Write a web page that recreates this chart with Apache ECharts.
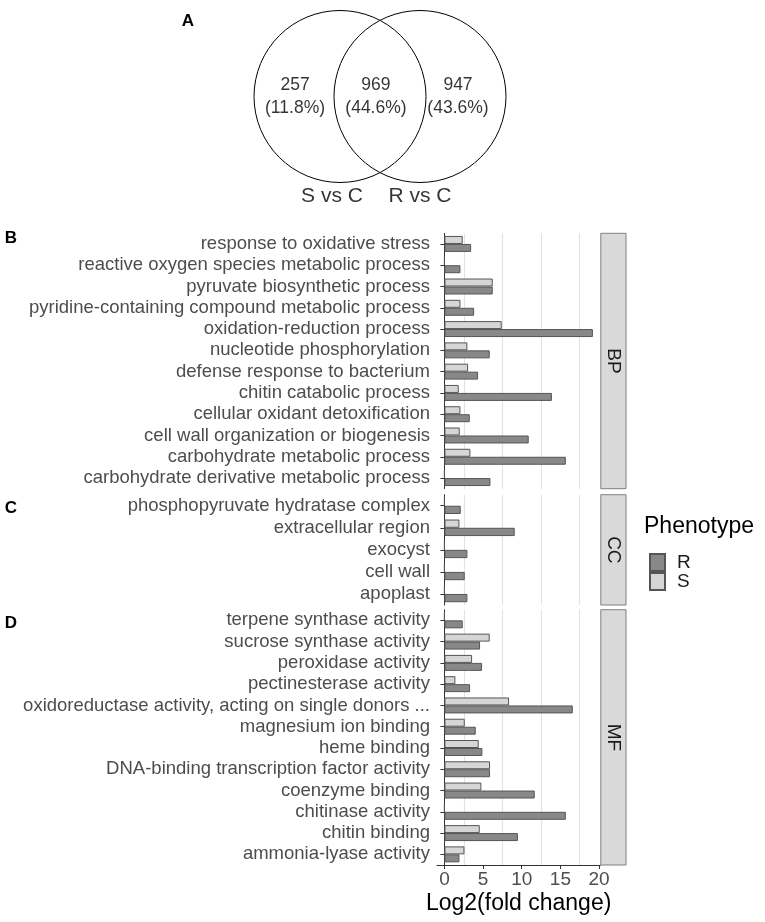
<!DOCTYPE html>
<html>
<head>
<meta charset="utf-8">
<script src="https://cdn.jsdelivr.net/npm/echarts@6/dist/echarts.min.js"></script>
<style>
html,body{margin:0;padding:0;background:#fff;}
#main{width:765px;height:922px;}
</style>
</head>
<body>
<div id="main"></div>
<script>
// Venn: S only, shared, R only
var vennSets = ['S vs C', 'R vs C'];
var vennCounts = [257, 969, 947];

// BP
var bpTerms = ['response to oxidative stress', 'reactive oxygen species metabolic process', 'pyruvate biosynthetic process',
  'pyridine-containing compound metabolic process', 'oxidation-reduction process', 'nucleotide phosphorylation',
  'defense response to bacterium', 'chitin catabolic process', 'cellular oxidant detoxification',
  'cell wall organization or biogenesis', 'carbohydrate metabolic process', 'carbohydrate derivative metabolic process'];
var bpS = [2.37, 0, 6.25, 2.07, 7.41, 2.97, 3.06, 1.85, 2.07, 1.98, 3.36, 0];
var bpR = [3.45, 2.07, 6.25, 3.84, 19.2, 5.86, 4.35, 13.9, 3.28, 10.9, 15.7, 5.95];

// CC
var ccTerms = ['phosphopyruvate hydratase complex', 'extracellular region', 'exocyst', 'cell wall', 'apoplast'];
var ccS = [0, 1.94, 0, 0, 0];
var ccR = [2.11, 9.09, 2.97, 2.63, 2.97];

// MF
var mfTerms = ['terpene synthase activity', 'sucrose synthase activity', 'peroxidase activity', 'pectinesterase activity',
  'oxidoreductase activity, acting on single donors ...', 'magnesium ion binding', 'heme binding',
  'DNA-binding transcription factor activity', 'coenzyme binding', 'chitinase activity', 'chitin binding', 'ammonia-lyase activity'];
var mfS = [0, 5.86, 3.58, 1.42, 8.36, 2.63, 4.44, 5.9, 4.78, 0, 4.57, 2.59];
var mfR = [2.37, 4.61, 4.87, 3.32, 16.6, 4.05, 4.91, 5.9, 11.68, 15.7, 9.5, 1.94];

var xTicks = [0, 5, 10, 15, 20];
var xGrid = [2.5, 7.5, 12.5, 17.5];

var facets = [
  {name: 'BP', terms: bpTerms, s: bpS, r: bpR, top: 233.3, height: 255.4},
  {name: 'CC', terms: ccTerms, s: ccS, r: ccR, top: 494.7, height: 110.3},
  {name: 'MF', terms: mfTerms, s: mfS, r: mfR, top: 609.7, height: 255.3}
];

var FONT = 'Liberation Sans, Arial, sans-serif';
var colR = '#888888', colS = '#d6d6d6', colEdge = '#555555';

var myChart = echarts.init(document.getElementById('main'));

var total = vennCounts[0] + vennCounts[1] + vennCounts[2];
function pct(v) { return '(' + (v / total * 100).toFixed(1) + '%)'; }

var grids = [{left: 251, top: 1.9, width: 258, height: 206.4}];
var xAxes = [{gridIndex: 0, type: 'value', min: -1.5, max: 1.5, show: false}];
var yAxes = [{gridIndex: 0, type: 'value', min: -1.3, max: 1.1, show: false}];
var series = [
  {
    type: 'scatter', xAxisIndex: 0, yAxisIndex: 0, silent: true,
    symbol: 'circle', symbolSize: 172,
    itemStyle: {color: 'rgba(0,0,0,0)', borderColor: '#000', borderWidth: 1, opacity: 1},
    data: [[-0.465, 0], [0.465, 0]]
  },
  {
    type: 'scatter', xAxisIndex: 0, yAxisIndex: 0, silent: true, symbolSize: 0,
    label: {show: true, position: 'inside', fontFamily: FONT, fontSize: 17.5, color: '#000', lineHeight: 23,
      formatter: function(p){ return p.value[2]; }},
    data: [[-0.988, 0, vennCounts[0] + '\n' + pct(vennCounts[0])],
           [-0.047, 0, vennCounts[1] + '\n' + pct(vennCounts[1])],
           [0.907, 0, vennCounts[2] + '\n' + pct(vennCounts[2])]]
  },
  {
    type: 'scatter', xAxisIndex: 0, yAxisIndex: 0, silent: true, symbolSize: 0,
    label: {show: true, position: 'inside', fontFamily: FONT, fontSize: 21, color: '#000',
      formatter: function(p){ return p.value[2]; }},
    data: [[-0.558, -1.157, vennSets[0]], [0.465, -1.157, vennSets[1]]]
  }
];

var graphics = [];

facets.forEach(function(f, i) {
  var last = i === facets.length - 1;
  grids.push({left: 437, top: f.top, width: 163.3, height: f.height});
  var g = grids.length - 1;
  // main x axis
  xAxes.push({
    gridIndex: g, type: 'value', min: -0.96, max: 20.16,
    name: last ? 'Log2(fold change)' : '', nameLocation: 'middle', nameGap: 27,
    nameTextStyle: {fontFamily: FONT, fontSize: 23, color: '#000'},
    axisLine: {show: last, lineStyle: {color: '#333', width: 1}},
    axisTick: {show: last, length: 4, lineStyle: {color: '#333'}, customValues: xTicks},
    axisLabel: {show: last, fontFamily: FONT, fontSize: 19, color: '#4d4d4d', margin: 5, customValues: xTicks},
    splitLine: {show: false}
  });
  var xMain = xAxes.length - 1;
  // grid line axis
  xAxes.push({
    gridIndex: g, type: 'value', min: -0.96, max: 20.16,
    axisLine: {show: false}, axisLabel: {show: false},
    axisTick: {show: false, customValues: xGrid},
    splitLine: {show: true, lineStyle: {color: '#e3e3e3', width: 1.2}}
  });
  yAxes.push({
    gridIndex: g, type: 'category', data: f.terms, inverse: true,
    axisLine: {show: true, lineStyle: {color: '#333', width: 1}},
    axisTick: {show: true, length: 4, alignWithLabel: true, interval: 0, lineStyle: {color: '#333'}},
    axisLabel: {fontFamily: FONT, fontSize: 18.5, color: '#4d4d4d', margin: 7, interval: 0},
    splitLine: {show: false}
  });
  var y = yAxes.length - 1;
  series.push({
    name: 'S', type: 'bar', xAxisIndex: xMain, yAxisIndex: y, data: f.s,
    barCategoryGap: '25%', barGap: '0%',
    itemStyle: {color: colS, borderColor: colEdge, borderWidth: 1}
  });
  series.push({
    name: 'R', type: 'bar', xAxisIndex: xMain, yAxisIndex: y, data: f.r,
    barCategoryGap: '25%', barGap: '0%',
    itemStyle: {color: colR, borderColor: colEdge, borderWidth: 1}
  });
  // facet strip
  graphics.push({
    type: 'rect', shape: {x: 600.8, y: f.top, width: 25.2, height: f.height},
    style: {fill: '#d9d9d9', stroke: '#808080', lineWidth: 1}, silent: true
  });
  graphics.push({
    type: 'text', x: 613.5, y: f.top + f.height / 2, rotation: -Math.PI / 2,
    style: {text: f.name, fontFamily: FONT, fontSize: 19, fill: '#1a1a1a', align: 'center', verticalAlign: 'middle'},
    silent: true
  });
});

// panel tags
[['A', 188, 21], ['B', 11, 238], ['C', 11, 508], ['D', 11, 623]].forEach(function(t) {
  graphics.push({
    type: 'text', x: t[1], y: t[2],
    style: {text: t[0], fontFamily: FONT, fontWeight: 'bold', fontSize: 17, fill: '#000', align: 'center', verticalAlign: 'middle'}
  });
});
graphics.push({
  type: 'text', x: 644, y: 527,
  style: {text: 'Phenotype', fontFamily: FONT, fontSize: 23, fill: '#000', align: 'left', verticalAlign: 'middle'}
});

myChart.setOption({
  animation: false,
  backgroundColor: '#fff',
  grid: grids,
  xAxis: xAxes,
  yAxis: yAxes,
  legend: {
    data: ['R', 'S'], orient: 'vertical', left: 644, top: 548,
    itemWidth: 15, itemHeight: 17, itemGap: 0, icon: 'rect',
    textStyle: {fontFamily: FONT, fontSize: 19, color: '#1a1a1a', padding: [0, 0, 0, 7]}
  },
  graphic: graphics,
  series: series
});
</script>
</body>
</html>
